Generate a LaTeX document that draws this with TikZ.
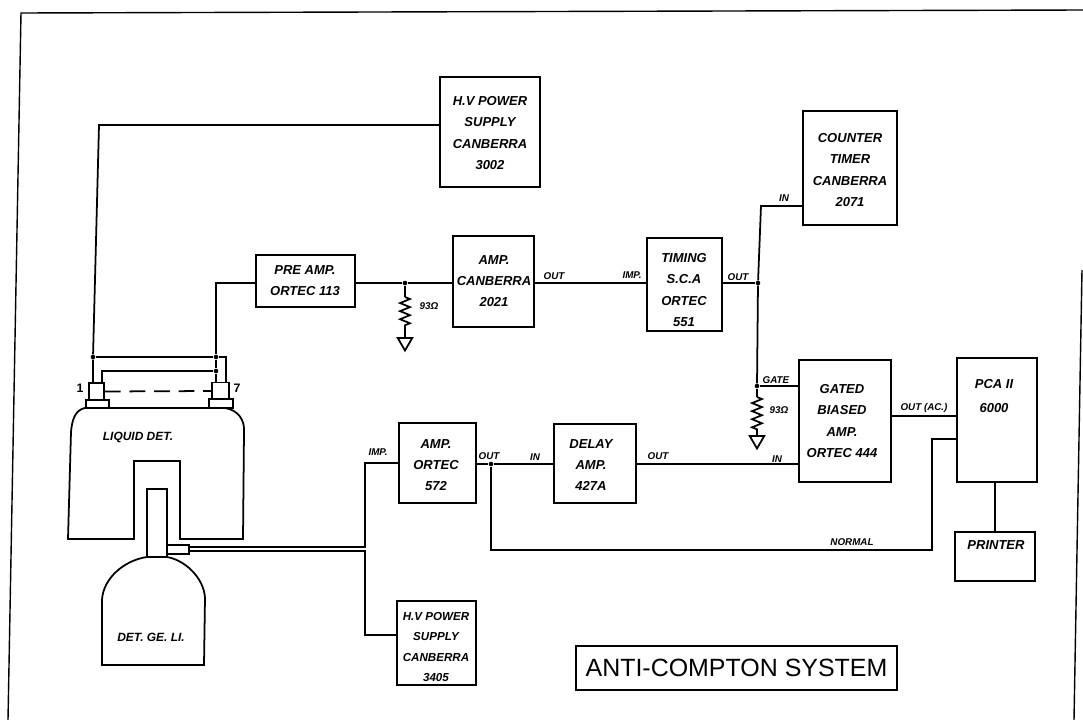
\documentclass[tikz,border=0pt]{standalone}
\usepackage{fontspec}
\setsansfont{Liberation Sans}
\usetikzlibrary{shapes.geometric,decorations.pathmorphing}

\tikzset{
  wire/.style={black, line width=1pt},
  thinwire/.style={black, line width=0.8pt},
  blockbox/.style={draw=black, line width=1pt, inner sep=0pt},
  blocktext/.style={align=center, inner sep=0pt, font=\fontsize{7.4}{12}\selectfont\sffamily\itshape\bfseries},
  tag/.style={inner sep=0pt, font=\fontsize{5.6}{7}\selectfont\sffamily\itshape\bfseries},
  joint/.style={circle, fill=black, inner sep=0pt, minimum size=2.6pt},
  resistor/.style={decorate, decoration={zigzag, amplitude=2.8pt, segment length=4.6pt}},
  ground/.style={draw=black, line width=1pt, regular polygon, regular polygon sides=3, shape border rotate=180, inner sep=0pt, minimum size=9.6pt, anchor=north}
}

\begin{document}
\begin{tikzpicture}[x=0.02cm, y=-0.02cm]
 \useasboundingbox (0,0) rectangle (1083,720);

 % page frame
 \draw[thinwire] (8,720) -- (21,13) -- (1083,10);
 \draw[thinwire] (1082,270) -- (1074,720);

 % rows
 \coordinate (mainrow) at (0,283);
 \coordinate (lowrow) at (0,464);

 % boxes
 \node[blockbox, minimum width=56.7pt, minimum height=63pt] (hvone) at (490,132) {};
 \node[blockbox, minimum width=56.1pt, minimum height=29.5pt] (preamp) at (305.5,281) {};
 \node[blockbox, minimum width=45.9pt, minimum height=52.2pt] (ampcan) at (493.5,281.5) {};
 \node[blockbox, minimum width=42.5pt, minimum height=52.7pt] (timing) at (684.5,284.5) {};
 \node[blockbox, minimum width=53.3pt, minimum height=64.6pt] (counter) at (850,168) {};
 \node[blockbox, minimum width=52.2pt, minimum height=69.5pt] (gated) at (845,421) {};
 \node[blockbox, minimum width=45.4pt, minimum height=70.3pt] (pca) at (997,420) {};
 \node[blockbox, minimum width=45.4pt, minimum height=27.8pt] (printer) at (995,556.5) {};
 \node[blockbox, minimum width=43.7pt, minimum height=45.4pt] (ampor) at (437.5,463) {};
 \node[blockbox, minimum width=46.5pt, minimum height=44.8pt] (delay) at (595,463.5) {};
 \node[blockbox, minimum width=44.8pt, minimum height=47.6pt] (hvtwo) at (436.5,643) {};
 \node[blockbox, line width=0.9pt, minimum width=183pt, minimum height=25pt, font=\fontsize{14.2}{15}\selectfont\sffamily] (title) at (736.5,668) {ANTI-COMPTON SYSTEM};

 % box texts
 \node[blocktext] (hvonetext) at (490,133) {H.V POWER\\SUPPLY\\CANBERRA\\3002};
 \node[blocktext] (preamptext) at (305,281) {PRE AMP.\\ORTEC 113};
 \node[blocktext] (ampcantext) at (494,281) {AMP.\\CANBERRA\\2021};
 \node[blocktext] (timingtext) at (684,290) {TIMING\\S.C.A\\ORTEC\\551};
 \node[blocktext] (countertext) at (850,170) {COUNTER\\TIMER\\CANBERRA\\2071};
 \node[blocktext] (gatedtext) at (842,421) {GATED\\BIASED\\AMP.\\ORTEC 444};
 \node[blocktext] (pcatext) at (994,396) {PCA II\\[2pt]6000};
 \node[blocktext] (printertext) at (996,545) {PRINTER};
 \node[blocktext] (amportext) at (436,465) {AMP.\\ORTEC\\572};
 \node[blocktext] (delaytext) at (591,465) {DELAY\\AMP.\\427A};
 \node[blocktext, font=\fontsize{6.6}{11.4}\selectfont\sffamily\itshape\bfseries] (hvtwotext) at (436,647) {H.V POWER\\SUPPLY\\CANBERRA\\3405};

 % detectors
 \draw[wire] (85,408) -- (225,408) .. controls (238,410) and (245,420) .. (244,432) -- (243,539)
   -- (180,539) -- (180,461) -- (134,461) -- (134,539) -- (68,539) -- (71,432) .. controls (72,420) and (75,410) .. (85,408);
 \draw[wire] (102,665) -- (102,600) .. controls (103,578) and (125,560) .. (147,557) -- (167,557)
   .. controls (185,560) and (204,578) .. (205,598) -- (204,665) -- cycle;
 \draw[wire] (147,557) -- (147,489) -- (167,489) -- (167,557);
 \node[blockbox, minimum width=8.5pt, minimum height=9.6pt] (portone) at (96.5,391.5) {};
 \node[blockbox, minimum width=13pt, minimum height=4.5pt] (baseone) at (97.5,404) {};
 \node[blockbox, minimum width=9.6pt, minimum height=9.6pt] (portseven) at (220.5,391) {};
 \node[blockbox, minimum width=13.6pt, minimum height=5pt] (baseseven) at (221,403.5) {};
 \node[blockbox, minimum width=12.5pt, minimum height=5.1pt] (tube) at (178,549.5) {};
 \node[blocktext, font=\fontsize{6.8}{8}\selectfont\sffamily\itshape\bfseries] (liquidtext) at (138,437) {LIQUID DET.};
 \node[blocktext, font=\fontsize{6.8}{8}\selectfont\sffamily\itshape\bfseries] (getext) at (151,637) {DET. GE. LI.};
 \node[tag, font=\fontsize{7}{8}\selectfont\sffamily\bfseries] (oneno) at (80,388) {1};
 \node[tag, font=\fontsize{7}{8}\selectfont\sffamily\bfseries] (sevenno) at (237,388) {7};

 % detector wires
 \node[joint] (leftjoint) at (93,357) {};
 \node[joint] (midjoint) at (216,357) {};
 \node[joint] (lowjoint) at (216,371) {};
 \coordinate (hvcorner) at (99,125);
 \coordinate (precorner) at (216,283);
 \coordinate (rightcorner) at (226,357);
 \coordinate (secondcorner) at (102,371);
 \draw[wire] (hvone.west |- hvcorner) -- (hvcorner) -- (leftjoint) -- (leftjoint |- portone.north);
 \draw[wire] (preamp.west |- mainrow) -- (precorner) -- (midjoint) -- (lowjoint) -- (lowjoint |- portseven.north);
 \draw[wire] (leftjoint) -- (midjoint) -- (rightcorner) -- (rightcorner |- portseven.north);
 \draw[wire] (secondcorner |- portone.north) -- (secondcorner) -- (lowjoint);
 \draw[wire, dashed, dash pattern=on 9pt off 5pt] (portone.east) -- (portseven.west);

 % top chain
 \node[joint] (pretap) at (405,283) {};
 \node[joint] (timingjoint) at (758,283) {};
 \coordinate (resatop) at (405,297);
 \coordinate (resabot) at (405,326);
 \node[ground] (gnda) at (405,337) {};
 \draw[wire] (preamp.east |- mainrow) -- (pretap) -- (ampcan.west |- mainrow);
 \draw[wire] (pretap) -- (resatop);
 \draw[wire, resistor] (resatop) -- (resabot);
 \draw[wire] (resabot) -- (gnda.north);
 \draw[wire] (ampcan.east |- mainrow) -- (timing.west |- mainrow);
 \draw[wire] (timing.east |- mainrow) -- (timingjoint);
 \coordinate (incorner) at (761,206);
 \draw[wire] (timingjoint) -- (incorner) -- (counter.west |- incorner);
 \node[joint] (gatejoint) at (757,386) {};
 \draw[wire] (timingjoint) -- (gatejoint);
 \coordinate (gaterow) at (0,386);
 \draw[wire] (gatejoint) -- (gated.west |- gaterow);
 \coordinate (resbtop) at (757,397);
 \coordinate (resbbot) at (757,430);
 \node[ground] (gndb) at (757,435) {};
 \draw[wire] (gatejoint) -- (resbtop);
 \draw[wire, resistor] (resbtop) -- (resbbot);
 \draw[wire] (resbbot) -- (gndb.north);

 % low chain
 \coordinate (upcorner) at (365,547);
 \coordinate (downcorner) at (365,551);
 \coordinate (amprow) at (365,463);
 \coordinate (hvrow) at (365,635);
 \draw[thinwire] (tube.east |- upcorner) -- (upcorner) -- (amprow) -- (ampor.west |- amprow);
 \draw[thinwire] (tube.east |- downcorner) -- (downcorner) -- (hvrow) -- (hvtwo.west |- hvrow);
 \node[joint] (normaltap) at (491,464) {};
 \draw[wire] (ampor.east |- lowrow) -- (normaltap) -- (delay.west |- lowrow);
 \draw[wire] (delay.east |- lowrow) -- (gated.west |- lowrow);
 \coordinate (normalcorner) at (491,550);
 \coordinate (normalup) at (932,550);
 \coordinate (normalend) at (932,439);
 \draw[wire] (normaltap) -- (normalcorner) -- (normalup) -- (normalend) -- (pca.west |- normalend);
 \coordinate (acrow) at (0,416);
 \draw[wire] (gated.east |- acrow) -- (pca.west |- acrow);
 \draw[wire] (pca.south -| printer.north) -- (printer.north);

 % wire labels
 \node[tag] (outa) at (554,276) {OUT};
 \node[tag] (impa) at (632,275) {IMP.};
 \node[tag] (outb) at (738,277) {OUT};
 \node[tag] (ina) at (784,198) {IN};
 \node[tag] (gatelabel) at (776,380) {GATE};
 \node[tag] (rlabela) at (429,306) {93Ω};
 \node[tag] (rlabelb) at (779,410) {93Ω};
 \node[tag] (impb) at (378,452) {IMP.};
 \node[tag] (outc) at (489,456) {OUT};
 \node[tag] (inb) at (535,457) {IN};
 \node[tag] (outd) at (658,456) {OUT};
 \node[tag] (inc) at (777,459) {IN};
 \node[tag] (oute) at (924,408) {OUT (AC.)};
 \node[tag] (normallabel) at (852,542) {NORMAL};
\end{tikzpicture}
\end{document}
